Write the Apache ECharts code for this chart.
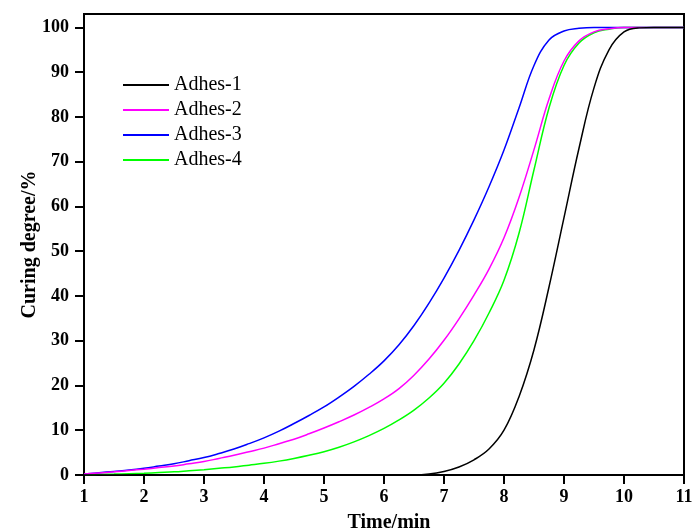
<!DOCTYPE html>
<html>
<head>
<meta charset="utf-8">
<script src="https://cdn.jsdelivr.net/npm/echarts@6/dist/echarts.min.js"></script>
<style>
  html, body { margin: 0; padding: 0; background: #ffffff; }
  #chart { width: 692px; height: 532px; }
</style>
</head>
<body>
<div id="chart"></div>
<script>
// Curing time (min), sampled every quarter minute
const timeMin = [
  1, 1.25, 1.5, 1.75, 2, 2.25, 2.5, 2.75, 3, 3.25, 3.5, 3.75, 4, 4.25, 4.5, 4.75, 5, 5.25, 5.5, 5.75,
  6, 6.25, 6.5, 6.75, 7, 7.25, 7.5, 7.75, 8, 8.25, 8.5, 8.75, 9, 9.25, 9.5, 9.75, 10, 10.25, 10.5, 10.75, 11
];

// Curing degree (%) of each adhesive
const adhes1 = [
  0, 0, 0, 0, 0, 0, 0, 0, 0, 0, 0, 0, 0, 0, 0, 0, 0, 0, 0, 0,
  0, 0, 0, 0.2, 0.8, 1.8, 3.4, 5.8, 10, 17.5, 28, 42, 57.5, 73, 86.5, 95, 99, 99.9, 100, 100, 100
];
const adhes2 = [
  0.2, 0.45, 0.7, 1.0, 1.3, 1.65, 2.0, 2.5, 3.0, 3.7, 4.4, 5.2, 6.0, 7.0, 8.0, 9.2, 10.5, 11.9, 13.4, 15.1,
  17.0, 19.3, 22.3, 25.9, 30.1, 34.9, 40.2, 46, 53, 62, 72.7, 84, 92.5, 97, 99, 99.7, 100, 100, 100, 100, 100
];
const adhes3 = [
  0.2, 0.5, 0.8, 1.1, 1.5, 2.0, 2.5, 3.2, 3.9, 4.8, 5.8, 7.0, 8.3, 9.8, 11.5, 13.3, 15.2, 17.4, 19.8, 22.5,
  25.5, 29.1, 33.4, 38.4, 44, 50.2, 57, 64.4, 72.6, 82, 91.5, 97.2, 99.2, 99.8, 100, 100, 100, 100, 100, 100, 100
];
const adhes4 = [
  0.1, 0.15, 0.2, 0.3, 0.4, 0.55, 0.7, 0.95, 1.2, 1.5, 1.8, 2.2, 2.6, 3.1, 3.7, 4.4, 5.2, 6.2, 7.4, 8.8,
  10.4, 12.3, 14.5, 17.2, 20.5, 24.8, 30, 36.2, 43.5, 54, 68.2, 82, 91.5, 96.5, 98.8, 99.6, 100, 100, 100, 100, 100
];

const seriesNames = ['Adhes-1', 'Adhes-2', 'Adhes-3', 'Adhes-4'];
const seriesColors = ['#000000', '#ff00ff', '#0000ff', '#00ff00'];
const yTicks = [0, 10, 20, 30, 40, 50, 60, 70, 80, 90, 100];

const serif = '"Liberation Serif", "Times New Roman", serif';

function pairs(values) {
  return timeMin.map((t, i) => [t, values[i]]);
}

const chart = echarts.init(document.getElementById('chart'), null, { renderer: 'canvas' });

chart.setOption({
  animation: false,
  backgroundColor: '#ffffff',
  grid: {
    left: 84, right: 8, top: 14, bottom: 57,
    outerBoundsMode: 'none',
    show: true, borderColor: '#000000', borderWidth: 2, backgroundColor: 'transparent'
  },
  legend: {
    orient: 'vertical',
    left: 123,
    top: 75,
    padding: 0,
    itemWidth: 46,
    itemHeight: 12,
    itemGap: 5,
    icon: 'path://M0,5 L46,5 L46,7 L0,7 Z',
    textStyle: { fontFamily: serif, fontSize: 20, color: '#000000', lineHeight: 20 },
    data: seriesNames
  },
  xAxis: {
    type: 'value',
    min: 1, max: 11, interval: 1,
    name: 'Time/min',
    nameLocation: 'middle',
    nameGap: 38,
    nameMoveOverlap: false,
    nameTextStyle: { fontFamily: serif, fontSize: 20, fontWeight: 'bold', color: '#000000', padding: [0, 0, 0, 10] },
    axisLine: { show: true, onZero: false, lineStyle: { color: '#000000', width: 2 } },
    axisTick: { show: true, inside: false, length: 9, lineStyle: { color: '#000000', width: 2 } },
    axisLabel: { margin: 13, fontFamily: serif, fontSize: 18, fontWeight: 'bold', color: '#000000' },
    splitLine: { show: false }
  },
  yAxis: {
    type: 'value',
    min: 0, max: 103,
    name: 'Curing degree/%',
    nameLocation: 'middle',
    nameGap: 44,
    nameMoveOverlap: false,
    nameTextStyle: { fontFamily: serif, fontSize: 20, fontWeight: 'bold', color: '#000000' },
    axisLine: { show: true, onZero: false, lineStyle: { color: '#000000', width: 2 } },
    axisTick: { show: true, inside: false, length: 9, customValues: yTicks, lineStyle: { color: '#000000', width: 2 } },
    axisLabel: { margin: 15, customValues: yTicks, fontFamily: serif, fontSize: 18, fontWeight: 'bold', color: '#000000' },
    splitLine: { show: false }
  },
  series: [adhes1, adhes2, adhes3, adhes4].map((vals, i) => ({
    name: seriesNames[i],
    type: 'line',
    data: pairs(vals),
    symbol: 'none',
    smooth: 0.4,
    color: seriesColors[i],
    lineStyle: { color: seriesColors[i], width: 1.5 },
    z: 10 - i
  }))
});
</script>
</body>
</html>
